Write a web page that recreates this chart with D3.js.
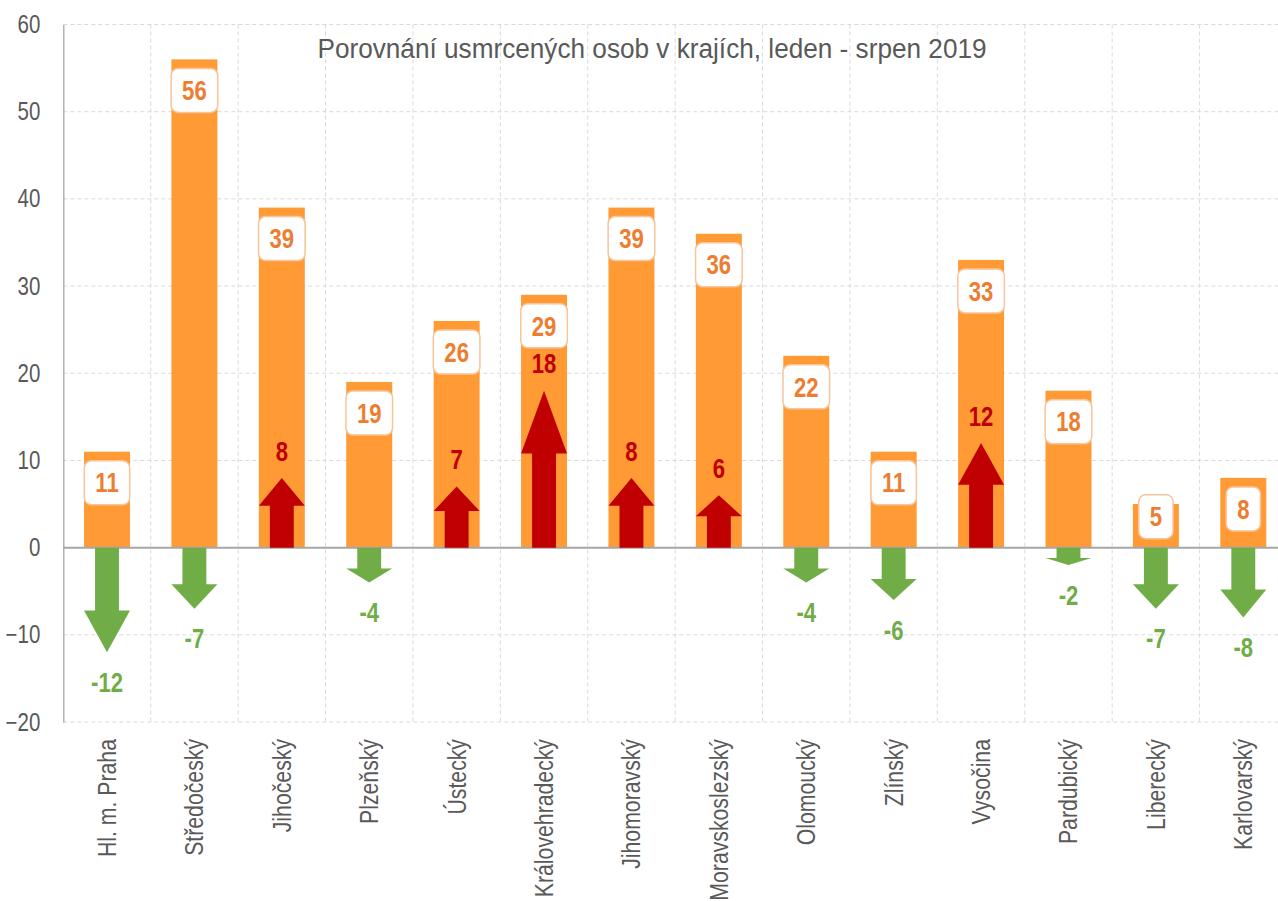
<!DOCTYPE html>
<html>
<head>
<meta charset="utf-8">
<script src="https://cdn.jsdelivr.net/npm/d3@7"></script>
<style>
  body { margin: 0; background: #fff; }
  text { font-family: "Liberation Sans", Arial, sans-serif; }
</style>
</head>
<body>
<div id="chart"></div>
<script>
// Data
var regions = ["Hl. m. Praha", "Středočeský", "Jihočeský", "Plzeňský", "Ústecký", "Královehradecký",
    "Jihomoravský", "Moravskoslezský", "Olomoucký", "Zlínský", "Vysočina", "Pardubický", "Liberecký", "Karlovarský"];
var killed = [11, 56, 39, 19, 26, 29, 39, 36, 22, 11, 33, 18, 5, 8];
var change = [-12, -7, 8, -4, 7, 18, 8, 6, -4, -6, 12, -2, -7, -8];
var yTicks = [-20, -10, 0, 10, 20, 30, 40, 50, 60];

var svgWidth = 1278;
var svgHeight = 901;

// narrow font emulation (Arial Narrow look)
var narrow = 0.82;

var margin = { top: 24.5, left: 63.3, right: -9, bottom: 179 };
var chartWidth = svgWidth - margin.left - margin.right;
var chartHeight = svgHeight - margin.top - margin.bottom;

var svg = d3.select("#chart").append("svg")
    .attr("width", svgWidth)
    .attr("height", svgHeight);

var g = svg.append("g")
    .attr("transform", `translate(${margin.left}, ${margin.top})`);

var x = d3.scaleBand()
    .domain(regions)
    .range([0, chartWidth])
    .paddingInner(0.474)
    .paddingOuter(0.237);

var y = d3.scaleLinear()
    .domain([-20, 60])
    .range([chartHeight, 0]);

var step = x.step();
var bw = x.bandwidth();

// horizontal grid
g.selectAll(".hgrid")
    .data(yTicks.filter(d => d !== 0))
    .enter().append("line")
    .attr("x1", 0).attr("x2", chartWidth)
    .attr("y1", d => y(d)).attr("y2", d => y(d))
    .attr("stroke", "#d9d9d9")
    .attr("stroke-dasharray", "4,3");

// vertical grid at category boundaries
g.selectAll(".vgrid")
    .data(regions.slice(1))
    .enter().append("line")
    .attr("x1", d => x(d) - (step - bw) / 2)
    .attr("x2", d => x(d) - (step - bw) / 2)
    .attr("y1", 0).attr("y2", chartHeight)
    .attr("stroke", "#d9d9d9")
    .attr("stroke-dasharray", "4,3");

// y axis
var leftAxis = d3.axisLeft(y).tickValues(yTicks).tickSize(0).tickPadding(24);
var yAxis = g.append("g").call(leftAxis);
yAxis.select(".domain").attr("stroke", "#a6a6a6").attr("stroke-width", 1.3);
yAxis.selectAll("text")
    .attr("fill", "#595959")
    .attr("x", -23 / narrow)
    .attr("transform", `scale(${narrow},1)`)
    .style("font-size", "25px")
    .style("font-family", "'Liberation Sans', Arial, sans-serif");

// bars
g.selectAll(".bar")
    .data(killed)
    .enter().append("rect")
    .attr("x", (d, i) => x(regions[i]))
    .attr("y", d => y(d))
    .attr("width", bw)
    .attr("height", d => y(0) - y(d))
    .attr("fill", "#ff9a35");

// zero line
g.append("line")
    .attr("x1", 0).attr("x2", chartWidth)
    .attr("y1", y(0)).attr("y2", y(0))
    .attr("stroke", "#a6a6a6")
    .attr("stroke-width", 2);

// arrows for change vs previous year
function arrowPath(v, i) {
    var cx = x(regions[i]) + bw / 2;
    var y0 = y(0), yTip = y(v), yBase = y(v * 0.6);
    var sh = bw * 0.26, hh = bw / 2;
    return `M${cx - sh},${y0} L${cx - sh},${yBase} L${cx - hh},${yBase} L${cx},${yTip} ` +
        `L${cx + hh},${yBase} L${cx + sh},${yBase} L${cx + sh},${y0} Z`;
}

g.selectAll(".arrow")
    .data(change)
    .enter().append("path")
    .attr("d", (d, i) => arrowPath(d, i))
    .attr("fill", d => d > 0 ? "#c00000" : "#70ad47");

// change labels
g.selectAll(".chgLabel")
    .data(change)
    .enter().append("text")
    .attr("transform", (d, i) => {
        var ly = d > 0 ? y(d) - 27 : y(d) + 30;
        return `translate(${x(regions[i]) + bw / 2}, ${ly}) scale(${narrow},1)`;
    })
    .attr("dy", "0.36em")
    .attr("text-anchor", "middle")
    .attr("fill", d => d > 0 ? "#c00000" : "#70ad47")
    .style("font-size", "27px")
    .style("font-weight", "bold")
    .text(d => d);

// value labels in rounded boxes
var lab = g.selectAll(".valLabel")
    .data(killed)
    .enter().append("g")
    .attr("transform", (d, i) => {
        var cy = Math.min(y(d) + 31, y(0) - 31);
        return `translate(${x(regions[i]) + bw / 2}, ${cy})`;
    });

lab.append("text")
    .attr("text-anchor", "middle")
    .attr("dy", "0.36em")
    .attr("transform", `scale(${narrow},1)`)
    .attr("fill", "#ed7d31")
    .style("font-size", "27px")
    .style("font-weight", "bold")
    .text(d => d);

lab.each(function () {
    var grp = d3.select(this);
    var tw = grp.select("text").node().getComputedTextLength() * narrow;
    grp.insert("rect", "text")
        .attr("x", -(tw / 2 + 11))
        .attr("y", -22)
        .attr("width", tw + 22)
        .attr("height", 44)
        .attr("rx", 7)
        .attr("fill", "#fff")
        .attr("stroke", "#f8c49a")
        .attr("stroke-width", 1.5);
});

// category labels
g.selectAll(".catLabel")
    .data(regions)
    .enter().append("text")
    .attr("transform", d => `translate(${x(d) + bw / 2 + 9}, ${chartHeight + 17}) rotate(-90) scale(0.85,1)`)
    .attr("text-anchor", "end")
    .attr("fill", "#595959")
    .style("font-size", "25px")
    .text(d => d);

// title
svg.append("text")
    .attr("transform", "translate(652, 58) scale(0.935,1)")
    .attr("text-anchor", "middle")
    .attr("fill", "#595959")
    .style("font-size", "28px")
    .text("Porovnání usmrcených osob v krajích, leden - srpen 2019");
</script>
</body>
</html>
